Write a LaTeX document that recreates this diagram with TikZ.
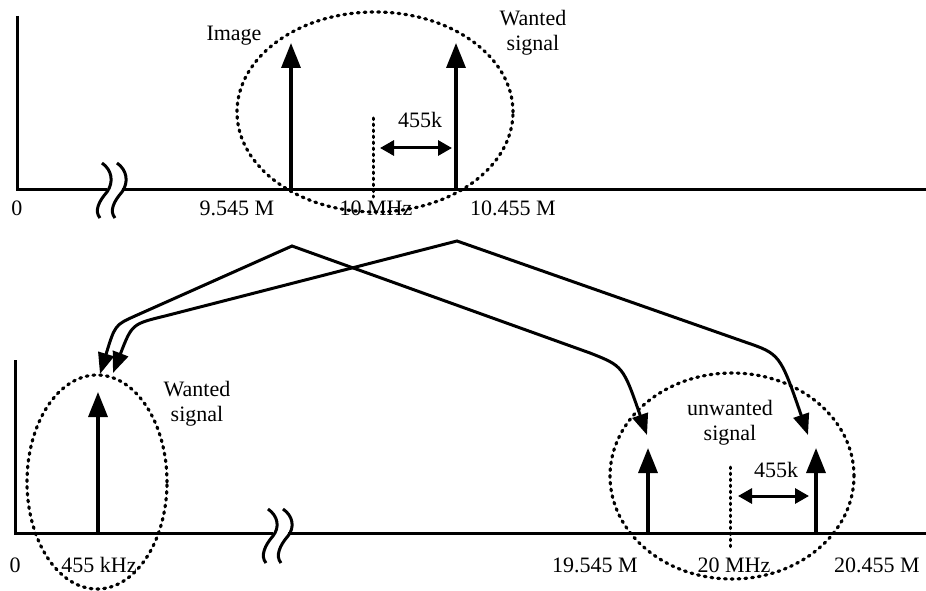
\documentclass[tikz,border=0pt]{standalone}
\usepackage{fontspec}
\setmainfont{Liberation Serif}
\usetikzlibrary{arrows.meta}

\begin{document}
\begin{tikzpicture}[
    x=1pt, y=-1pt,
    font=\fontsize{22}{25}\selectfont,
    axis/.style={
        line width=3pt,
    },
    spec/.style={
        line width=3.4pt,
        -{Triangle[length=25pt,width=19pt]},
    },
    marker/.style={
        line width=3pt,
        line cap=round,
        dash pattern=on 1.6pt off 4.4pt,
    },
    ring/.style={
        line width=3.2pt,
        line cap=round,
        dash pattern=on 1.8pt off 5pt,
    },
    gap/.style={
        line width=3pt,
        {Triangle[length=14pt,width=15pt]}-{Triangle[length=14pt,width=15pt]},
    },
    hop/.style={
        line width=3pt,
        {Triangle[length=21pt,width=16pt]}-{Triangle[length=21pt,width=16pt]},
    },
    brk/.style={
        line width=3pt,
    },
    lbl/.style={
        inner sep=0pt,
        anchor=base,
    },
    twoline/.style={
        inner sep=0pt,
        anchor=north,
        align=center,
    },
]
    \useasboundingbox (0,0) rectangle (926,591);

    % upper spectrum
    \coordinate (topY) at (17,16);
    \coordinate (topO) at (17,189);
    \coordinate (topCut1) at (107,189);
    \coordinate (topCut2) at (122,189);
    \coordinate (topEnd) at (926,189);
    \draw[axis] (topY) -- (topO) -- (topCut1);
    \draw[axis] (topCut2) -- (topEnd);
    \foreach \dx in {0,15}
        \draw[brk, shift={(102+\dx,189)}] (0,-26) .. controls (10,-19) and (12,-7) .. (5,3)
            .. controls (-3,12) and (-8,22) .. (-2,29);

    \coordinate (imgB) at (291,189);
    \coordinate (imgT) at (291,43);
    \coordinate (wntB) at (456,189);
    \coordinate (wntT) at (456,43);
    \draw[spec] (imgB) -- (imgT);
    \draw[spec] (wntB) -- (wntT);

    \coordinate (loTop) at (373,118);
    \coordinate (loBot) at (373,197);
    \draw[marker] (loTop) -- (loBot);
    \coordinate (gapL) at (380,148);
    \coordinate (gapR) at (452,148);
    \draw[gap] (gapL) -- (gapR);
    \node[lbl] (gapTxt) at (420,128) {455k};

    \draw[ring] (375,112) ellipse [x radius=138pt, y radius=100pt];

    \node[lbl] (imgTxt) at (234,41) {Image};
    \node[twoline] (wntTxt) at (533,10) {Wanted\\signal};

    \node[lbl] (zeroA) at (17,215) {0};
    \node[lbl] (fImg) at (237,215) {9.545 M};
    \node[lbl] (fLo) at (376,215) {10 MHz};
    \node[lbl] (fWnt) at (513,215) {10.455 M};

    % lower spectrum
    \coordinate (botY) at (15,360);
    \coordinate (botO) at (15,533);
    \coordinate (botCut1) at (273,533);
    \coordinate (botCut2) at (288,533);
    \coordinate (botEnd) at (926,533);
    \draw[axis] (botY) -- (botO) -- (botCut1);
    \draw[axis] (botCut2) -- (botEnd);
    \foreach \dx in {0,15}
        \draw[brk, shift={(268+\dx,533)}] (0,-24) .. controls (10,-17) and (12,-6) .. (5,3)
            .. controls (-3,12) and (-8,23) .. (-2,30);

    \coordinate (ifB) at (98,533);
    \coordinate (ifT) at (98,392);
    \coordinate (uwAB) at (648,533);
    \coordinate (uwAT) at (648,448);
    \coordinate (uwBB) at (816,533);
    \coordinate (uwBT) at (816,448);
    \draw[spec] (ifB) -- (ifT);
    \draw[spec] (uwAB) -- (uwAT);
    \draw[spec] (uwBB) -- (uwBT);

    \coordinate (lo2Top) at (730,467);
    \coordinate (lo2Bot) at (730,547);
    \draw[marker] (lo2Top) -- (lo2Bot);
    \coordinate (gap2L) at (738,496);
    \coordinate (gap2R) at (809,496);
    \draw[gap] (gap2L) -- (gap2R);
    \node[lbl] (gap2Txt) at (776,477) {455k};

    \draw[ring] (97,482) ellipse [x radius=70pt, y radius=107pt];
    \draw[ring] (732,476) ellipse [x radius=122pt, y radius=103pt];

    \node[twoline] (ifTxt) at (197,381) {Wanted\\signal};
    \node[twoline] (uwTxt) at (730,400) {unwanted\\signal};

    \node[lbl] (zeroB) at (15,572) {0};
    \node[lbl] (fIf) at (99,572) {455 kHz};
    \node[lbl] (fUwA) at (595,572) {19.545 M};
    \node[lbl] (fLo2) at (734,572) {20 MHz};
    \node[lbl] (fUwB) at (877,572) {20.455 M};

    % mixing paths
    \coordinate (pkA) at (292,246);
    \coordinate (pkB) at (457,241);
    \coordinate (tipAL) at (100,374);
    \coordinate (tipBL) at (113,373);
    \coordinate (tipAR) at (647,435);
    \coordinate (tipBR) at (808,435);
    \draw[hop] (tipAL) .. controls (115,325) .. (135,316) -- (pkA)
        -- (590,353) .. controls (623,366) .. (tipAR);
    \draw[hop] (tipBL) .. controls (132,324) .. (165,316) -- (pkB)
        -- (745,342) .. controls (780,354) .. (tipBR);
\end{tikzpicture}
\end{document}
